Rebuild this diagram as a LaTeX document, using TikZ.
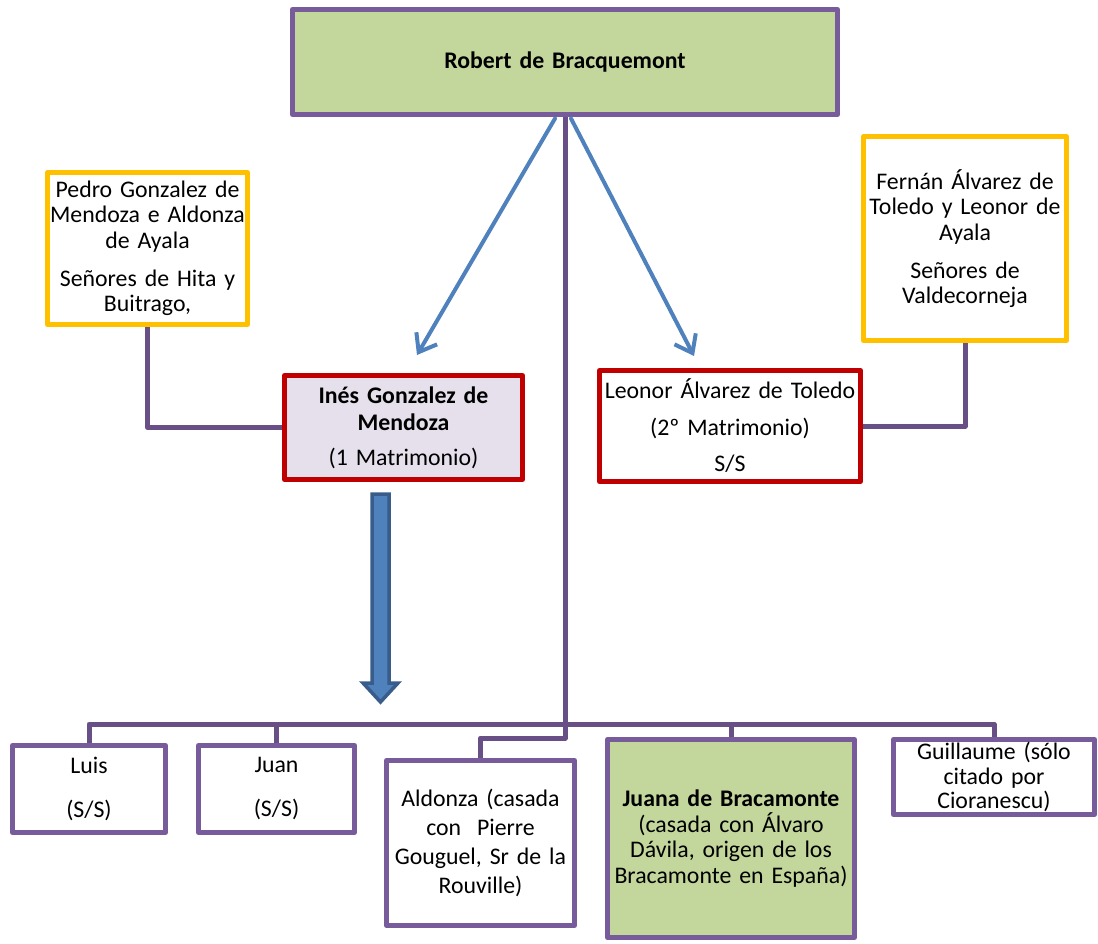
\documentclass[tikz,border=0pt]{standalone}
\usepackage{fontspec}
\setmainfont{Carlito}
\usetikzlibrary{arrows.meta,backgrounds}

\definecolor{leaf}{HTML}{C3D69B}
\definecolor{lilac}{HTML}{E5E0EC}
\definecolor{plum}{HTML}{775B9A}
\definecolor{plumline}{HTML}{684F86}
\definecolor{gold}{HTML}{FFC000}
\definecolor{crimson}{HTML}{C00000}
\definecolor{sky}{HTML}{4F81BD}
\definecolor{navy}{HTML}{385D8A}

\begin{document}
\begin{tikzpicture}[x=1pt,y=-1pt,
  every node/.style={font=\fontsize{23.8}{25.5}\selectfont},
  box/.style={draw, rectangle, line width=5pt, line join=round, outer sep=0pt,
              inner sep=0pt, align=center, fill=white},
  person/.style={box, draw=plum},
  parents/.style={box, draw=gold},
  spouse/.style={box, draw=crimson},
  conn/.style={draw=plumline, line width=5pt, line join=round},
  link/.style={draw=sky, line width=4pt, line cap=round,
               -{Straight Barb[length=16pt,width=24pt,line width=4pt]}},
  blockarrow/.style={fill=sky, draw=navy, line width=3.5pt, line join=miter}
]
\useasboundingbox (0,0) rectangle (1098,944);

% --- upper generation ---
\node[person, fill=leaf, minimum width=545pt, minimum height=105pt, text width=530pt]
  (robert) at (565,62) {\textbf{Robert de Bracquemont}};

\node[parents, minimum width=200pt, minimum height=152pt, text width=196pt]
  (pedro) at (147.5,248.5)
  {Pedro Gonzalez de\\Mendoza e Aldonza\\de Ayala\\[12.5pt]Señores de Hita y\\Buitrago,};

\node[parents, minimum width=203pt, minimum height=204pt, text width=198pt]
  (fernan) at (965,238.5)
  {Fernán Álvarez de\\Toledo y Leonor de\\Ayala\\[12.5pt]Señores de\\Valdecorneja};

\node[spouse, fill=lilac, minimum width=238pt, minimum height=104pt, text width=232pt,
      font=\fontsize{23.8}{27}\selectfont]
  (ines) at (403.5,427.5)
  {\textbf{Inés Gonzalez de}\\\textbf{Mendoza}\\[8pt](1 Matrimonio)};

\node[spouse, minimum width=261pt, minimum height=111pt, text width=256pt]
  (leonor) at (730,426)
  {Leonor Álvarez de Toledo\\[11pt](2º Matrimonio)\\[11pt]S/S};

% --- children ---
\node[person, minimum width=153pt, minimum height=87pt, text width=148pt]
  (luis) at (89,789) {Luis\\[18.5pt](S/S)};
\node[person, minimum width=156pt, minimum height=87pt, text width=150pt]
  (juan) at (276.5,789) {Juan\\[18.5pt](S/S)};
\node[person, minimum width=188pt, minimum height=165pt, text width=184pt,
      font=\fontsize{23.8}{29}\selectfont]
  (aldonza) at (480.5,843)
  {Aldonza (casada\\con~ Pierre\\Gouguel, Sr de la\\Rouville)};
\node[person, fill=leaf, minimum width=247pt, minimum height=198pt, text width=242pt]
  (juana) at (731,838.5)
  {\textbf{Juana de Bracamonte}\\(casada con Álvaro\\Dávila, origen de los\\Bracamonte en España)};
\node[person, minimum width=201pt, minimum height=75pt, text width=196pt,
      font=\fontsize{23.8}{24.5}\selectfont]
  (guillaume) at (994,777)
  {Guillaume (sólo\\citado por\\Cioranescu)};

% --- connectors ---
\coordinate (bus) at (0,724);
\coordinate (elbow) at (0,738);
\coordinate (tipL) at (417,355);
\coordinate (tipR) at (694,356);

\begin{scope}[on background layer]
  \draw[conn] (robert.south) -- (robert.south |- elbow) -| (aldonza.north);
  \draw[conn] (luis.north) -- (luis.north |- bus) -- (guillaume.north |- bus)
              -- (guillaume.north);
  \draw[conn] (juan.north) -- (juan.north |- bus);
  \draw[conn] (juana.north) -- (juana.north |- bus);
  \draw[conn] (pedro.south) |- (ines.west);
  \draw[conn] (leonor.east) -| (fernan.south);
\end{scope}

\draw[link] ([xshift=-10pt,yshift=-4pt]robert.south) -- (tipL);
\draw[link] ([xshift=6pt,yshift=-4pt]robert.south) -- (tipR);

% descent arrow below the first marriage
\draw[blockarrow] (372,494) -- (389,494) -- (389,683) -- (398,683)
  -- (380.5,702) -- (363,683) -- (372,683) -- cycle;
\end{tikzpicture}
\end{document}
